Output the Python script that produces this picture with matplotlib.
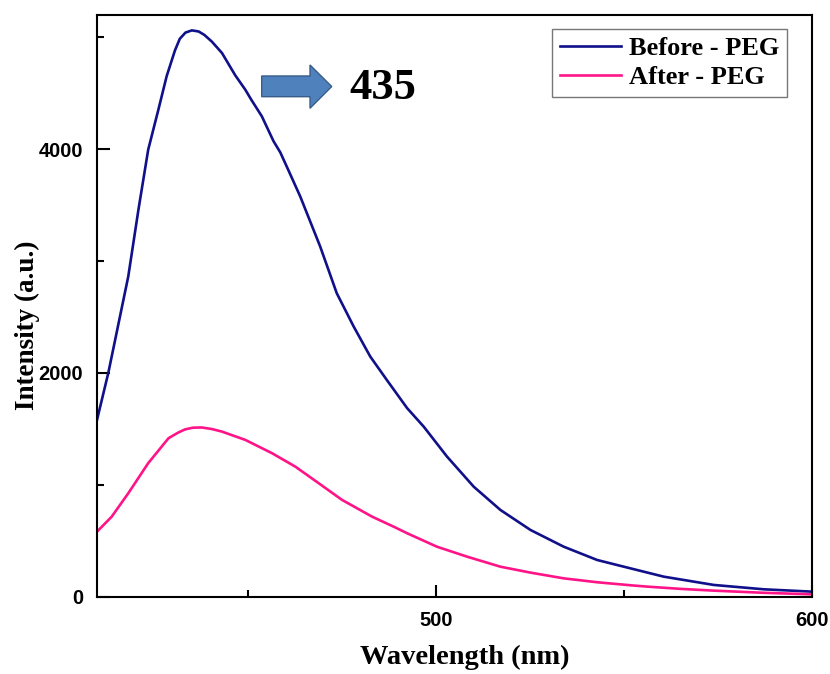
import matplotlib
matplotlib.use("Agg")
import matplotlib.pyplot as plt
from matplotlib.patches import Polygon
from matplotlib.ticker import MultipleLocator

# Emission spectra
before_wl = [410, 413, 418.3, 421, 423.6, 426.3, 428.5, 430.7, 432, 433.5,
             435.2, 437, 438.5, 440.5, 443.2, 446.7, 449.4, 451, 453.8, 456.9,
             458.7, 461, 464, 469.3, 473.7, 478.2, 482.6, 487, 492.4, 496.8,
             503, 510.1, 517.2, 525.2, 534, 542.9, 550, 560.6, 573.9, 587.2, 600]
before_int = [1580, 2000, 2861, 3457, 3994, 4351, 4650, 4880, 4985, 5040,
              5060, 5050, 5020, 4960, 4858, 4660, 4530, 4440, 4292, 4070,
              3970, 3800, 3576, 3129, 2712, 2414, 2146, 1937, 1685, 1520,
              1252, 983, 775, 596, 447, 328, 268, 179, 105, 66, 45]

after_wl = [410, 413.9, 418.3, 423.6, 429, 431.5, 433.4, 435.5, 437.8, 440.5,
            443.2, 449.4, 456.5, 462.7, 468.9, 475.1, 483.1, 488.8, 492.4, 500.3,
            508.3, 517.2, 525.2, 534, 542.9, 551.8, 556.2, 565, 573.9, 587, 600]
after_int = [581, 715, 924, 1193, 1416, 1465, 1495, 1510, 1512, 1498,
             1475, 1401, 1282, 1162, 1014, 865, 715, 626, 567, 447,
             358, 268, 215, 164, 129, 102, 90, 70, 54, 35, 21]

labels = ["Before - PEG", "After - PEG"]
colors = ["#10108a", "#ff1488"]
peak_label = "435"

fig = plt.figure(figsize=(8.3, 6.74), dpi=100)
ax = fig.add_axes([0.1169, 0.1147, 0.8614, 0.8635])

ax.plot(before_wl, before_int, color=colors[0], lw=1.9, label=labels[0])
ax.plot(after_wl, after_int, color=colors[1], lw=1.9, label=labels[1])

ax.set_xlim(410, 600)
ax.set_ylim(0, 5200)
ax.xaxis.set_major_locator(MultipleLocator(100))
ax.xaxis.set_minor_locator(MultipleLocator(50))
ax.yaxis.set_major_locator(MultipleLocator(2000))
ax.yaxis.set_minor_locator(MultipleLocator(1000))
ax.tick_params(which="both", direction="in", width=1.5, top=False, right=False)
ax.tick_params(which="major", length=9, labelsize=14.5, pad=10)
ax.tick_params(which="minor", length=5)
for lab in ax.get_xticklabels() + ax.get_yticklabels():
    lab.set_fontfamily("Liberation Sans")
    lab.set_fontweight("bold")
for sp in ax.spines.values():
    sp.set_linewidth(1.5)

ax.set_xlabel("Wavelength (nm)", fontfamily="Liberation Serif",
              fontweight="bold", fontsize=20.5)
ax.set_ylabel("Intensity (a.u.)", fontfamily="Liberation Serif",
              fontweight="bold", fontsize=19.5)
ax.xaxis.set_label_coords(0.5147, -0.082)
ax.yaxis.set_label_coords(-0.0797, 0.467)

# block arrow pointing at the peak label
arrow = Polygon([(0.2303, 0.8947), (0.2979, 0.8947), (0.2979, 0.9136),
                 (0.3283, 0.8766), (0.2979, 0.8392), (0.2979, 0.8591),
                 (0.2303, 0.8591)], closed=True, transform=ax.transAxes,
                facecolor="#4f81bd", edgecolor="#385d8a", lw=1)
ax.add_patch(arrow)
ax.text(0.400, 0.874, peak_label, transform=ax.transAxes, ha="center",
        va="center", fontfamily="Liberation Serif", fontweight="bold",
        fontsize=32)

leg = ax.legend(loc="upper right", bbox_to_anchor=(0.965, 0.9754),
                borderaxespad=0, fancybox=False, edgecolor="#555555",
                handlelength=2.3, handletextpad=0.3, labelspacing=0.2,
                borderpad=0.3,
                prop={"family": "Liberation Serif", "weight": "bold", "size": 19})
leg.get_frame().set_linewidth(1.0)

fig.savefig("out.png", dpi=100)
